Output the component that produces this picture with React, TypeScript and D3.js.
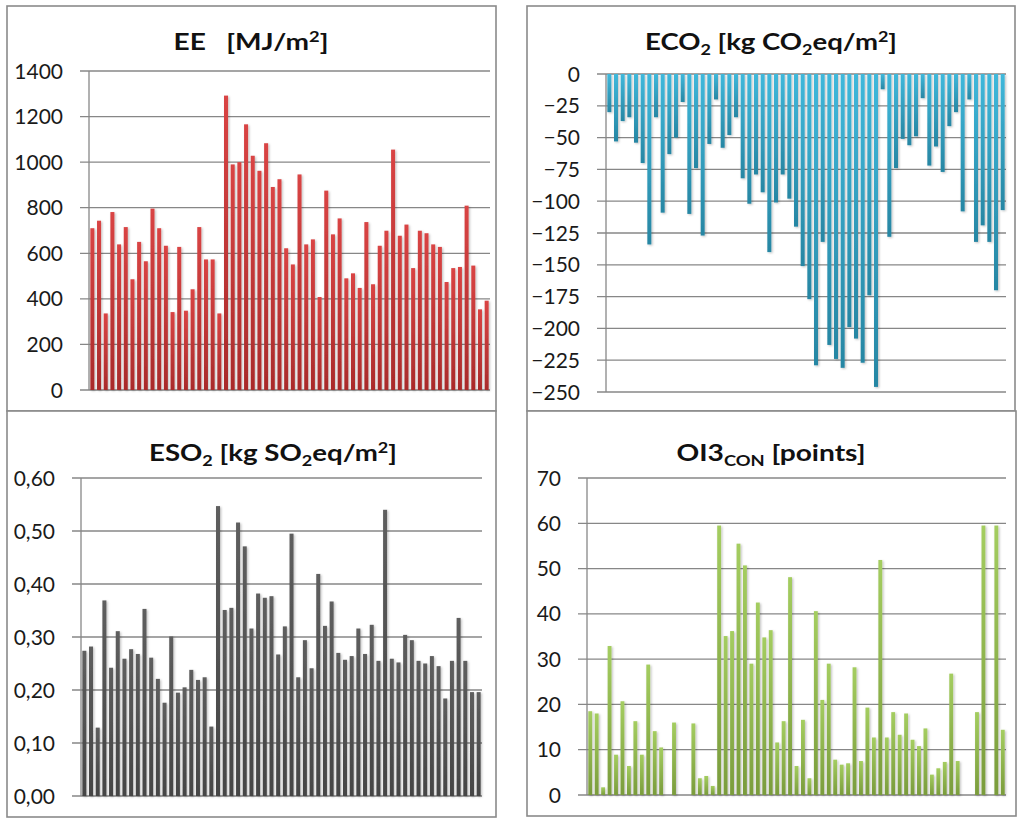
import React from "react";
import * as d3 from "d3";

// values (one bar per building)
const eeValues = [
  710, 743, 336, 781, 639, 715, 486, 650, 565, 796,
  710, 633, 342, 628, 348, 442, 715, 573, 573, 336,
  1292, 990, 1000, 1166, 1028, 962, 1083, 891, 925, 622,
  551, 946, 639, 661, 408, 875, 683, 753, 490, 512,
  448, 737, 464, 633, 699, 1055, 677, 726, 535, 699,
  688, 639, 628, 474, 535, 540, 809, 546, 354, 392,
];

const eco2Values = [
  -30, -53, -37, -34, -54, -70, -134, -34, -109, -63,
  -50, -22, -110, -74, -127, -55, -20, -58, -48, -34,
  -82, -102, -79, -93, -140, -101, -79, -98, -120, -151,
  -177, -229, -132, -213, -224, -231, -199, -208, -227, -174,
  -246, -12, -128, -74, -51, -56, -49, -19, -72, -57,
  -77, -41, -30, -108, -20, -132, -119, -132, -170, -107,
];

const eso2Values = [
  0.274, 0.282, 0.129, 0.369, 0.242, 0.311, 0.259, 0.277, 0.268, 0.353,
  0.261, 0.221, 0.176, 0.301, 0.195, 0.205, 0.238, 0.219, 0.224, 0.131,
  0.547, 0.351, 0.355, 0.516, 0.471, 0.316, 0.382, 0.374, 0.377, 0.267,
  0.32, 0.495, 0.224, 0.294, 0.241, 0.419, 0.321, 0.367, 0.27, 0.257,
  0.264, 0.316, 0.268, 0.323, 0.255, 0.54, 0.259, 0.252, 0.304, 0.294,
  0.255, 0.25, 0.264, 0.245, 0.184, 0.255, 0.336, 0.255, 0.196, 0.196,
];

const oi3Values: (number | null)[] = [
  18.5, 18.0, 1.7, 32.9, 8.9, 20.7, 6.4, 16.3, 8.9, 28.8,
  14.1, 10.5, null, 16.0, null, null, 15.8, 3.7, 4.2, 2.0,
  59.5, 35.1, 36.2, 55.5, 50.7, 29.0, 42.5, 34.8, 36.4, 11.6,
  16.3, 48.1, 6.4, 16.6, 3.7, 40.6, 21.0, 29.0, 7.8, 6.7,
  7.0, 28.2, 7.5, 19.3, 12.7, 51.9, 12.7, 18.3, 13.3, 18.0,
  12.2, 10.8, 14.7, 4.5, 5.9, 7.3, 26.8, 7.5, null, null,
  18.3, 59.5, null, 59.5, 14.4,
];

const eeTicks = [0, 200, 400, 600, 800, 1000, 1200, 1400];
const eco2Ticks = [0, -25, -50, -75, -100, -125, -150, -175, -200, -225, -250];
const eso2Ticks = [0, 0.1, 0.2, 0.3, 0.4, 0.5, 0.6];
const oi3Ticks = [0, 10, 20, 30, 40, 50, 60, 70];

type Part = { t: string; s?: "sub" | "sup" };

const commaLocale = d3.formatLocale({
  decimal: ",",
  thousands: ".",
  grouping: [3],
  currency: ["", " €"],
});
const fmtComma = commaLocale.format(".2f");
const fmtInt = d3.format("d");

const FONT = "Lato, 'Open Sans', sans-serif";

interface PanelProps {
  id: string;
  values: (number | null)[];
  ticks: number[];
  domain: [number, number];
  frame: [number, number, number, number];
  plot: { left: number; right: number; top: number; bottom: number };
  title: Part[];
  titleX: number;
  titleY: number;
  titleWidth: number;
  colors: [string, string];
  format: (v: number) => string;
}

const Title: React.FC<{ parts: Part[]; x: number; y: number; w: number }> = ({
  parts,
  x,
  y,
  w,
}) => {
  let shift = 0;
  return (
    <text
      x={x}
      y={y}
      textAnchor="middle"
      fontFamily={FONT}
      fontWeight="bold"
      fontSize={23}
      fill="#111"
      textLength={w}
      lengthAdjust="spacingAndGlyphs"
    >
      {parts.map((p, i) => {
        const target = p.s === "sub" ? 5 : p.s === "sup" ? -8 : 0;
        const dy = target - shift;
        shift = target;
        return (
          <tspan key={i} dy={dy} fontSize={p.s ? 15 : 23}>
            {p.t}
          </tspan>
        );
      })}
    </text>
  );
};

const Panel: React.FC<PanelProps> = (props) => {
  const { id, values, ticks, domain, frame, plot, colors, format } = props;
  const x = d3
    .scaleBand<number>()
    .domain(d3.range(values.length))
    .range([plot.left, plot.right])
    .paddingInner(0.4)
    .paddingOuter(0.2);
  const y = d3.scaleLinear().domain(domain).range([plot.bottom, plot.top]);
  const y0 = y(0);
  const tickStart = plot.left - 9;

  return (
    <g>
      <defs>
        <linearGradient id={`grad-${id}`} x1="0" y1="0" x2="0" y2="1">
          <stop offset="0%" stopColor={colors[0]} />
          <stop offset="100%" stopColor={colors[1]} />
        </linearGradient>
      </defs>
      <rect
        x={frame[0]}
        y={frame[1]}
        width={frame[2] - frame[0]}
        height={frame[3] - frame[1]}
        fill="#fff"
        stroke="#8a8a8a"
        strokeWidth={1.6}
      />
      {/* grid lines + tick marks */}
      {ticks.map((t) => (
        <line
          key={t}
          x1={tickStart}
          x2={plot.right}
          y1={y(t)}
          y2={y(t)}
          stroke="#878787"
          strokeWidth={1.3}
        />
      ))}
      <line
        x1={plot.left}
        x2={plot.left}
        y1={plot.top}
        y2={plot.bottom}
        stroke="#878787"
        strokeWidth={1.3}
      />
      {ticks.map((t) => (
        <text
          key={`l${t}`}
          x={tickStart - 17}
          y={y(t)}
          dy="0.36em"
          textAnchor="end"
          fontFamily={FONT}
          fontSize={21}
          fill="#1a1a1a"
        >
          {format(t)}
        </text>
      ))}
      {/* bars */}
      <g filter="url(#barShadow)">
        {values.map((v, i) =>
          v == null ? null : (
            <rect
              key={i}
              x={x(i)}
              y={Math.min(y0, y(v))}
              width={x.bandwidth()}
              height={Math.abs(y(v) - y0)}
              fill={`url(#grad-${id})`}
            />
          )
        )}
      </g>
      <Title parts={props.title} x={props.titleX} y={props.titleY} w={props.titleWidth} />
    </g>
  );
};

export default function App() {
  return (
    <svg
      width={1024}
      height={825}
      style={{ position: "absolute", left: 0, top: 0, background: "#fff" }}
    >
      <defs>
        <filter id="barShadow" x="-30%" y="-5%" width="180%" height="110%">
          <feDropShadow dx="1.2" dy="1" stdDeviation="0.8" floodColor="#000" floodOpacity="0.25" />
        </filter>
      </defs>
      <rect width={1024} height={825} fill="#fff" />
      <Panel
        id="ee"
        values={eeValues}
        ticks={eeTicks}
        domain={[0, 1400]}
        frame={[7, 6, 496, 411]}
        plot={{ left: 89, right: 490, top: 71, bottom: 390 }}
        title={[{ t: "EE\u00a0\u00a0\u00a0[MJ/m" }, { t: "2", s: "sup" }, { t: "]" }]}
        titleX={251}
        titleY={50}
        titleWidth={155}
        colors={["#d94444", "#a92b2b"]}
        format={fmtInt}
      />
      <Panel
        id="eco2"
        values={eco2Values}
        ticks={eco2Ticks}
        domain={[-250, 0]}
        frame={[527, 6, 1015, 411]}
        plot={{ left: 606, right: 1006, top: 74, bottom: 392 }}
        title={[
          { t: "ECO" },
          { t: "2", s: "sub" },
          { t: " [kg CO" },
          { t: "2", s: "sub" },
          { t: "eq/m" },
          { t: "2", s: "sup" },
          { t: "]" },
        ]}
        titleX={771}
        titleY={50}
        titleWidth={252}
        colors={["#3fb8db", "#2786a3"]}
        format={fmtInt}
      />
      <Panel
        id="eso2"
        values={eso2Values}
        ticks={eso2Ticks}
        domain={[0, 0.6]}
        frame={[7, 411, 496, 817]}
        plot={{ left: 81, right: 482, top: 478, bottom: 796 }}
        title={[
          { t: "ESO" },
          { t: "2", s: "sub" },
          { t: " [kg SO" },
          { t: "2", s: "sub" },
          { t: "eq/m" },
          { t: "2", s: "sup" },
          { t: "]" },
        ]}
        titleX={273}
        titleY={461}
        titleWidth={248}
        colors={["#5e5e5e", "#454545"]}
        format={fmtComma}
      />
      <Panel
        id="oi3"
        values={oi3Values}
        ticks={oi3Ticks}
        domain={[0, 70]}
        frame={[527, 411, 1016, 816]}
        plot={{ left: 587, right: 1006, top: 478, bottom: 795 }}
        title={[{ t: "OI3" }, { t: "CON", s: "sub" }, { t: " [points]" }]}
        titleX={771}
        titleY={461}
        titleWidth={189}
        colors={["#a4cd60", "#7a9c3c"]}
        format={fmtInt}
      />
    </svg>
  );
}
